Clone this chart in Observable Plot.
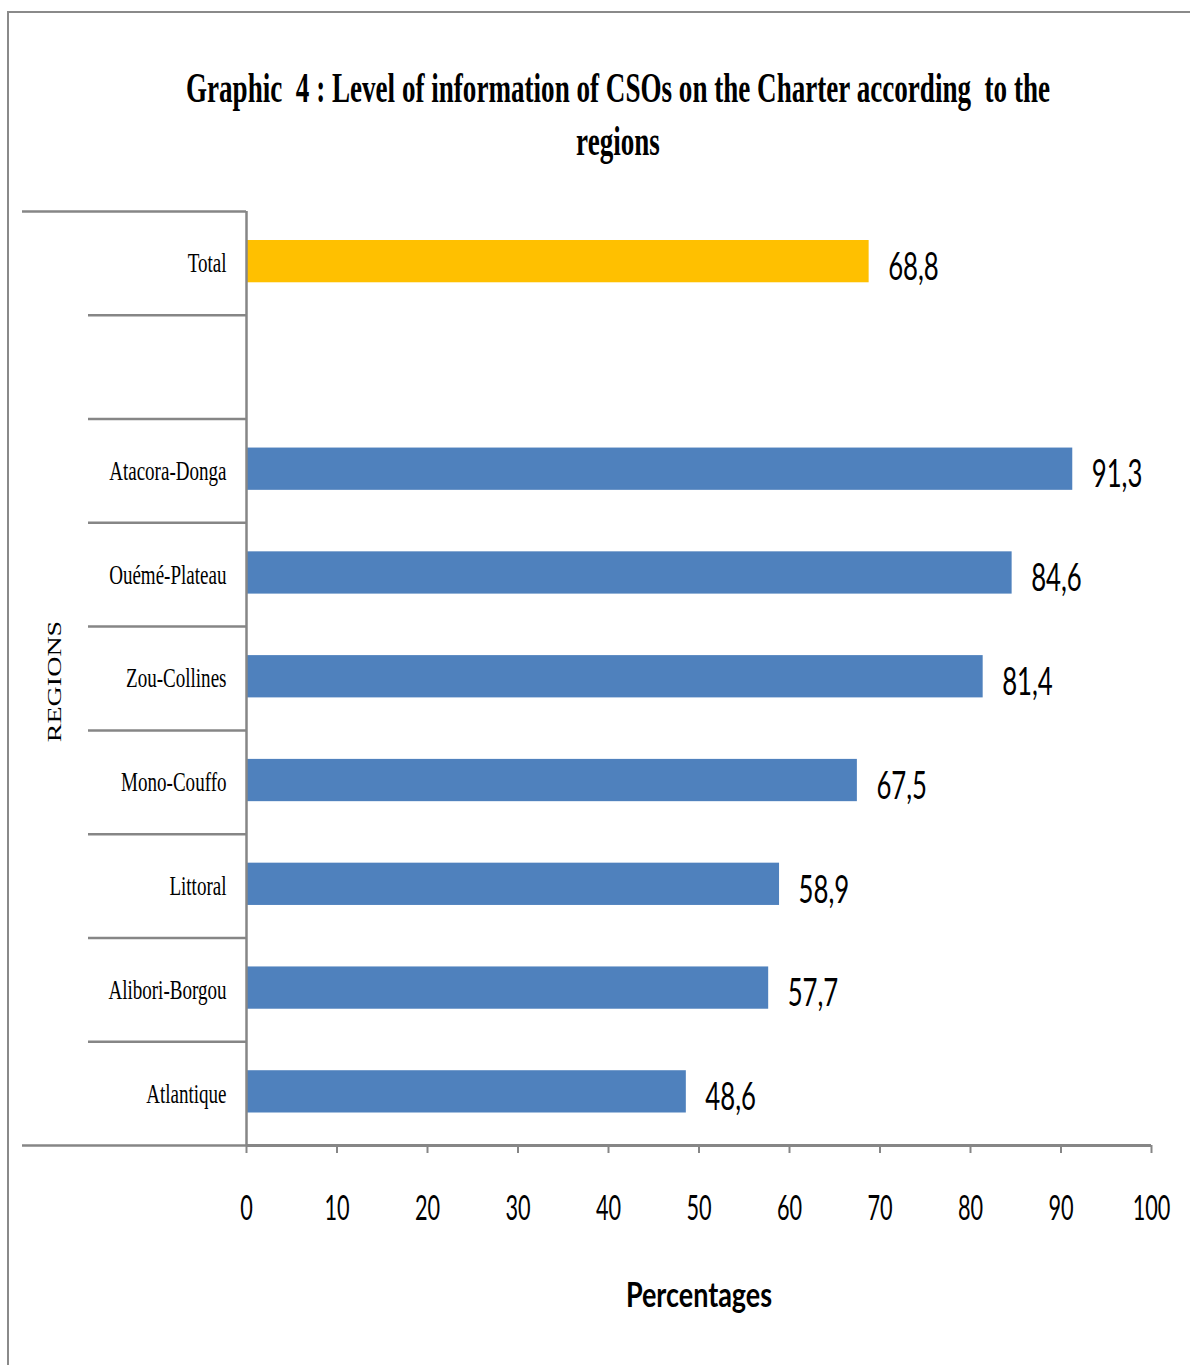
<!DOCTYPE html>
<html><head><meta charset="utf-8">
<script src="https://cdn.jsdelivr.net/npm/d3@7"></script>
<script src="https://cdn.jsdelivr.net/npm/@observablehq/plot@0.6"></script>
<style>
html,body{margin:0;padding:0;background:#fff;overflow:hidden}
#page{position:relative;width:1190px;height:1365px;overflow:hidden;background:#fff}
#frame{position:absolute;left:7px;top:11px;width:1300px;height:1500px;border-top:2.5px solid #8a8a8a;border-left:2.5px solid #8a8a8a;box-sizing:border-box}
#title{position:absolute;left:-382px;top:62px;width:2000px;font-family:"Liberation Serif","Times New Roman",serif;font-weight:bold;font-size:42px;line-height:53px;color:#000;white-space:pre;text-align:center}
#title span{display:block;transform:scaleX(0.645);transform-origin:50% 50%}
#chart{position:absolute;left:0;top:170px}
</style></head>
<body><div id="page"><div id="frame"></div><div id="title"></div><div id="chart"></div></div>
<script>
// ---- data ----
const titleLines = ["Graphic  4 : Level of information of CSOs on the Charter according  to the", "regions"];
const categories = ["Total", "", "Atacora-Donga", "Ouémé-Plateau", "Zou-Collines", "Mono-Couffo", "Littoral", "Alibori-Borgou", "Atlantique"];
const regions = ["Total", "Atacora-Donga", "Ouémé-Plateau", "Zou-Collines", "Mono-Couffo", "Littoral", "Alibori-Borgou", "Atlantique"];
const values = [68.8, 91.3, 84.6, 81.4, 67.5, 58.9, 57.7, 48.6];
const groups = ["total", "region", "region", "region", "region", "region", "region", "region"];
const xTicks = [0, 10, 20, 30, 40, 50, 60, 70, 80, 90, 100];
const xLabel = "Percentages";
const yLabel = "REGIONS";

// ---- styles ----
const SERIF = "Liberation Serif, Times New Roman, serif";
const SANS = "Lato, Carlito, sans-serif";
const GRAY = "#868686";
const W = 1190, H = 1195, MT = 41, MB = 220, ML = 246, MR = 39;
const step = (H - MT - MB) / categories.length;

const data = regions.map((r, i) => ({region: r, value: values[i], group: groups[i]}));
const fmt = v => String(v).replace(".", ",");

document.getElementById("title").innerHTML = titleLines.map(t => `<span>${t}</span>`).join("");

const plot = Plot.plot({
  width: W, height: H,
  marginTop: MT, marginBottom: MB, marginLeft: ML, marginRight: MR,
  style: {background: "transparent", overflow: "visible"},
  x: {domain: [0, 100]},
  y: {domain: categories, padding: 0, round: false},
  color: {domain: ["total", "region"], range: ["#FFC000", "#4F81BD"]},
  marks: [
    Plot.barX(data, {x: "value", y: "region", fill: "group", insetTop: 29, insetBottom: 32.5}),
    Plot.axisY({tickSize: 0, tickPadding: 20, fontSize: 28, fontFamily: SERIF, fill: "#000", label: null}),
    Plot.axisY({ticks: categories.slice(1), tickSize: 158, dy: -step / 2, tickFormat: () => "", stroke: GRAY, strokeWidth: 2.5, fill: "none", label: null}),
    Plot.axisY({ticks: [categories[0]], tickSize: 224, dy: -step / 2, tickFormat: () => "", stroke: GRAY, strokeWidth: 2.5, fill: "none", label: null}),
    Plot.axisY({ticks: [categories[categories.length - 1]], tickSize: 224, dy: step / 2, tickFormat: () => "", stroke: GRAY, strokeWidth: 2.5, fill: "none", label: null}),
    Plot.ruleY([categories[categories.length - 1]], {dy: step / 2, stroke: GRAY, strokeWidth: 3}),
    Plot.ruleX([0], {stroke: GRAY, strokeWidth: 2.5}),
    Plot.axisX({ticks: xTicks, tickSize: 8, tickPadding: 42, fontSize: 35, fontFamily: SANS, stroke: GRAY, strokeWidth: 2, fill: "#000", label: null}),
    Plot.text(data, {x: "value", y: "region", text: d => fmt(d.value), dx: 19, dy: 4, textAnchor: "start", fontSize: 39, fontFamily: SANS, fill: "#000"}),
    Plot.text([xLabel], {frameAnchor: "bottom", lineAnchor: "middle", dy: 150, fontSize: 35, fontWeight: "bold", fontFamily: SANS, fill: "#000"}),
    Plot.text([yLabel], {frameAnchor: "left", textAnchor: "middle", rotate: -90, dx: -192, dy: 3, fontSize: 28, fontFamily: SERIF, fill: "#000"})
  ]
});
document.getElementById("chart").appendChild(plot);

// condensed look of the original typefaces (horizontal squeeze per text role)
plot.querySelectorAll("text").forEach(t => {
  const fam = (t.closest("[font-family]") || t).getAttribute("font-family") || "";
  const size = +((t.closest("[font-size]") || t).getAttribute("font-size")) || 0;
  const bold = !!t.closest("[font-weight]");
  const k = fam.includes("Serif") ? 0.68 : bold ? 0.77 : size > 36 ? 0.66 : 0.62;
  let tr = t.getAttribute("transform");
  if (!tr) {
    const x = +t.getAttribute("x") || 0, y = +t.getAttribute("y") || 0;
    t.removeAttribute("x"); t.removeAttribute("y");
    tr = `translate(${x},${y})`;
  }
  t.setAttribute("transform", tr + (tr.includes("rotate") ? ` scale(1,${k})` : ` scale(${k},1)`));
});
</script>
</body></html>
